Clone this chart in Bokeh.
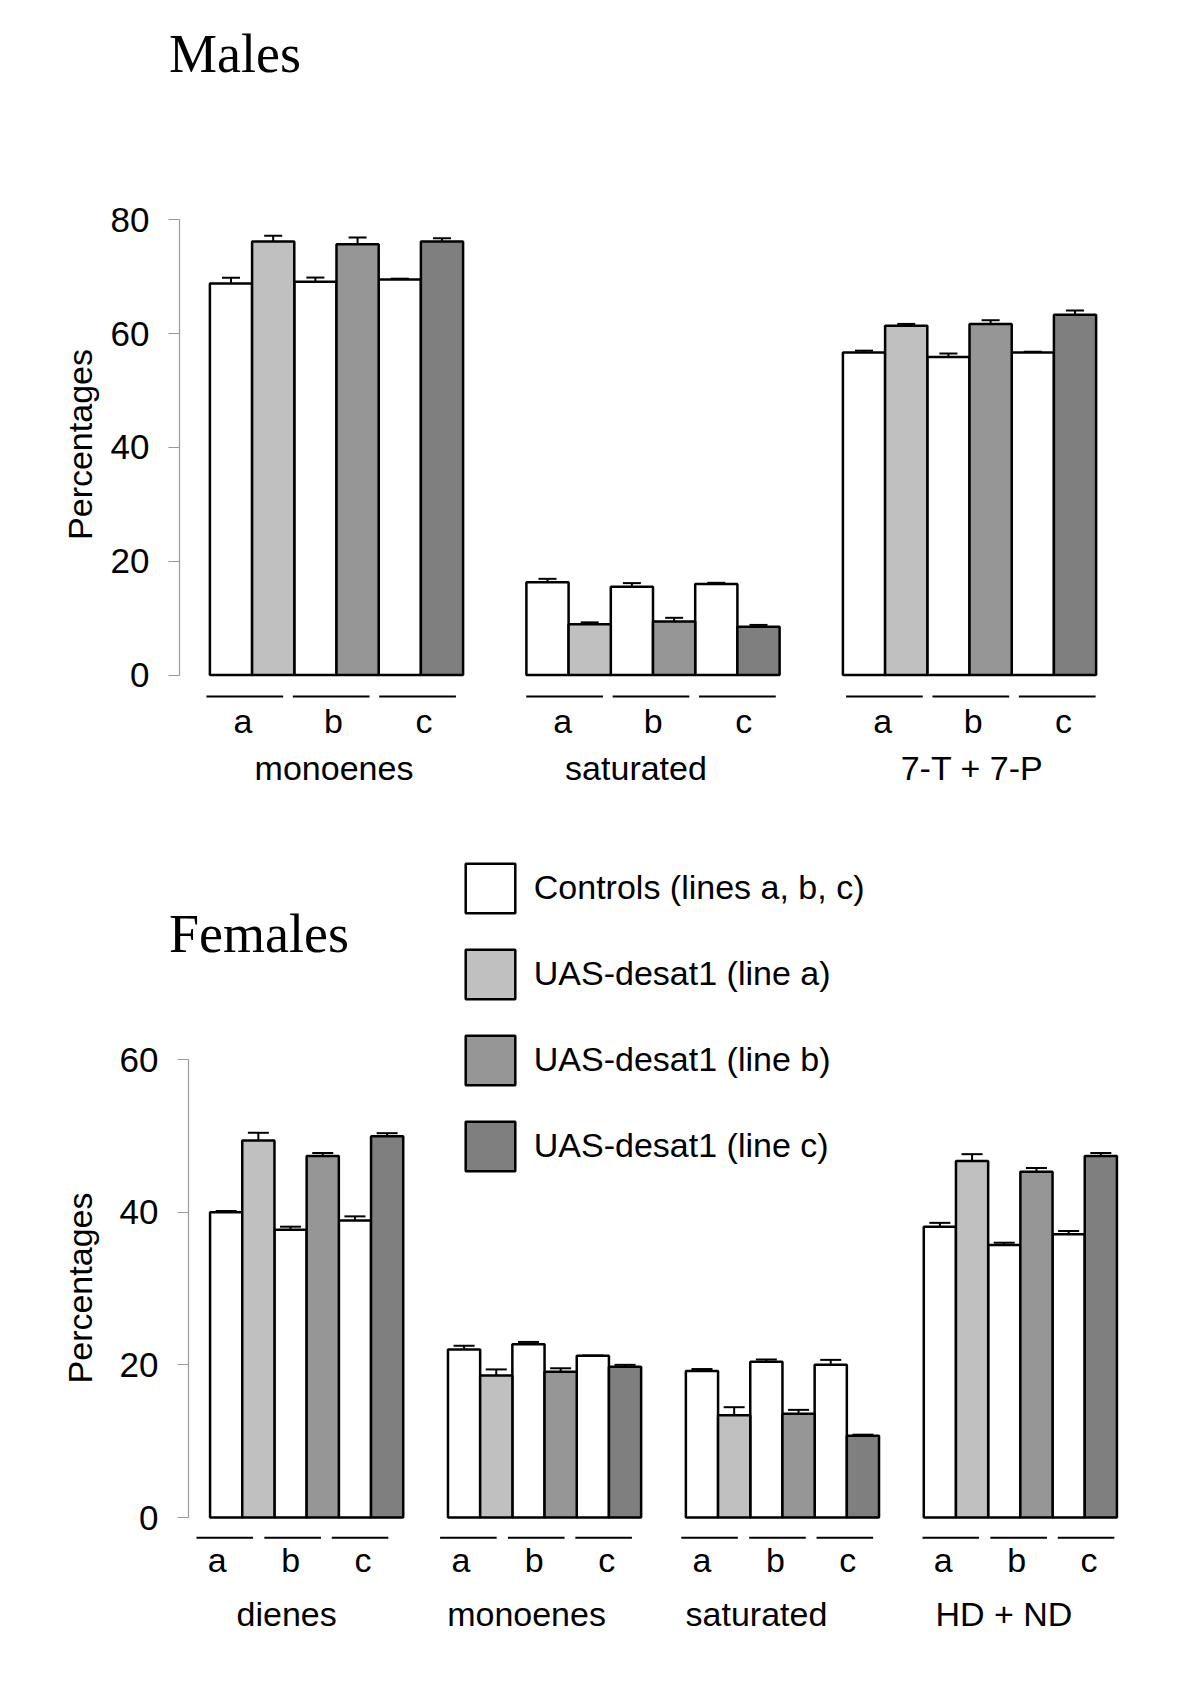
import math
from bokeh.plotting import figure
from bokeh.models import (FactorRange, Range1d, ColumnDataSource, Whisker, TeeHead,
                          FixedTicker, Legend, LegendItem, Label)
from bokeh.layouts import column
from bokeh.embed import file_html
from bokeh.resources import INLINE
from bokeh.core.properties import value

# ---------------- data ----------------
letters = ["a", "b", "c"]

males_groups = ["monoenes", "saturated", "7-T + 7-P"]
males_control = [68.8, 69.1, 69.5, 16.3, 15.5, 16.0, 56.7, 55.9, 56.7]
males_control_err = [1.0, 0.75, 0.15, 0.6, 0.65, 0.2, 0.3, 0.6, 0.1]
males_uas = [76.2, 75.7, 76.2, 8.9, 9.4, 8.5, 61.4, 61.7, 63.3]
males_uas_err = [1.0, 1.2, 0.55, 0.35, 0.65, 0.3, 0.3, 0.65, 0.75]
males_yticks = [0, 20, 40, 60, 80]

females_groups = ["dienes", "monoenes", "saturated", "HD + ND"]
females_control = [40.0, 37.7, 38.9, 22.0, 22.7, 21.2, 19.2, 20.4, 20.0, 38.1, 35.7, 37.1]
females_control_err = [0.15, 0.4, 0.55, 0.5, 0.3, 0.0, 0.25, 0.3, 0.65, 0.5, 0.3, 0.45]
females_uas = [49.4, 47.35, 49.95, 18.6, 19.1, 19.75, 13.4, 13.6, 10.7, 46.7, 45.3, 47.35]
females_uas_err = [1.0, 0.4, 0.4, 0.8, 0.45, 0.25, 1.05, 0.5, 0.15, 0.9, 0.5, 0.4]
females_yticks = [0, 20, 40, 60]

legend_labels = ["Controls (lines a, b, c)", "UAS-desat1 (line a)",
                 "UAS-desat1 (line b)", "UAS-desat1 (line c)"]
y_label = "Percentages"
control_color = "#ffffff"
uas_colors = ["#c0c0c0", "#969696", "#7f7f7f"]

FONT = "Liberation Sans"
FIG_W = 1192
TITLE_PANEL = 60  # height of the title panel above the frame

# ---------------- layout / style ----------------
males_cfg = dict(
    title="Males", h=800, left=179, bar_px=42.2, gpad=1.5, rpad=0.72,
    zero_px=674.5, ppu=5.69, cap=18,
    under_px=21.5, letter_px=45.8, group_px=92.8, under_half=0.909,
    under_group_shift=[-5.3, -2.0, 1.3], under_letter_shift=[-2.0, 0.0, 2.0],
    letter_shift=[-3.8, 2.3, 8.3], group_shift=[-2.5, -17.0, 2.5],
    title_x=-10.5, title_sy=53.0,
    ylab_x=10.5, ylab_cy=444.0,
)
females_cfg = dict(
    title="Females", h=886, left=188, bar_px=32.2, gpad=1.39, rpad=0.67,
    zero_px=717.0, ppu=7.633, cap=21,
    under_px=20.3, letter_px=42.3, group_px=96.7, under_half=0.879,
    under_group_shift=[-14.0, -8.3, -5.0, -1.7], under_letter_shift=[-3.5, 0.0, 3.0],
    letter_shift=[-11.0, -2.0, 6.0], group_shift=[-20.0, -18.0, -26.0, -16.5],
    title_x=-19.5, title_sy=133.0,
    ylab_x=1.5, ylab_cy=487.5,
)


def make_panel(groups, ctrl, ctrl_err, uas, uas_err, yticks, cfg, with_legend=False):
    factors = [(g, l, s) for g in groups for l in letters for s in ("ctrl", "uas")]
    xr = FactorRange(factors=factors, group_padding=cfg["gpad"], subgroup_padding=0.0,
                     factor_padding=0.0, range_padding=cfg["rpad"],
                     range_padding_units="absolute")
    n_units = len(factors) + (len(groups) - 1) * cfg["gpad"] + 2 * cfg["rpad"]
    frame_w = n_units * cfg["bar_px"]
    right = int(round(FIG_W - cfg["left"] - frame_w))
    h = cfg["h"]
    ppu = cfg["ppu"]
    y_top = (cfg["zero_px"] - TITLE_PANEL) / ppu
    y_bot = -(h - cfg["zero_px"]) / ppu

    p = figure(x_range=xr, y_range=Range1d(y_bot, y_top), width=FIG_W, height=h,
               output_backend="svg", toolbar_location=None, x_axis_location=None,
               title_location=None, frame_align=False,
               min_border_left=cfg["left"], min_border_right=right,
               min_border_top=0, min_border_bottom=0)
    p.outline_line_color = None
    p.grid.visible = False
    p.background_fill_color = "white"
    p.border_fill_color = "white"

    ax = p.yaxis[0]
    ax.ticker = FixedTicker(ticks=yticks)
    ax.bounds = (yticks[0], yticks[-1])
    ax.axis_line_color = "#9a9a9a"
    ax.axis_line_width = 1.2
    ax.major_tick_line_color = "#9a9a9a"
    ax.major_tick_line_width = 1.2
    ax.major_tick_out = 11
    ax.major_tick_in = 0
    ax.minor_tick_line_color = None
    ax.major_label_text_font = FONT
    ax.major_label_text_font_size = "35px"
    ax.major_label_text_color = "black"
    ax.major_label_standoff = 19

    # y-axis title, centred on the axis line (placed in the left side panel)
    p.add_layout(Label(x=cfg["ylab_x"], y=h - cfg["ylab_cy"], x_units="screen",
                       y_units="screen", text=y_label, angle=math.pi / 2,
                       text_font=FONT, text_font_size="34px", text_color="black",
                       text_align="center", text_baseline="middle"), "left")

    gl = [(g, l) for g in groups for l in letters]
    ctrl_src = ColumnDataSource(dict(
        x=[(g, l, "ctrl") for g, l in gl], top=ctrl,
        lower=[v - e for v, e in zip(ctrl, ctrl_err)],
        upper=[v + e for v, e in zip(ctrl, ctrl_err)]))
    uas_src = ColumnDataSource(dict(
        x=[(g, l, "uas") for g, l in gl], top=uas,
        color=[uas_colors[letters.index(l)] for g, l in gl],
        lower=[v - e for v, e in zip(uas, uas_err)],
        upper=[v + e for v, e in zip(uas, uas_err)]))

    r_ctrl = p.vbar(x="x", top="top", bottom=0, width=1.0, source=ctrl_src,
                    fill_color=control_color, line_color="black", line_width=2.5)
    r_uas = p.vbar(x="x", top="top", bottom=0, width=1.0, source=uas_src,
                   fill_color="color", line_color="black", line_width=2.5)

    for src in (ctrl_src, uas_src):
        p.add_layout(Whisker(base="x", upper="upper", lower="lower", source=src,
                             line_color="black", line_width=2,
                             upper_head=TeeHead(size=cfg["cap"], line_color="black", line_width=2),
                             lower_head=TeeHead(size=cfg["cap"], line_color="black", line_width=2)))

    # underlines and a/b/c labels
    bpx = cfg["bar_px"]
    x0s, x1s, lx = [], [], []
    for gi, g in enumerate(groups):
        for li, l in enumerate(letters):
            sh = (cfg["under_group_shift"][gi] + cfg["under_letter_shift"][li]) / bpx
            x0s.append((g, l, sh - cfg["under_half"]))
            x1s.append((g, l, sh + cfg["under_half"]))
            lsh = (cfg["under_group_shift"][gi] + cfg["letter_shift"][li]) / bpx
            lx.append((g, l, lsh))
    yu = -cfg["under_px"] / ppu
    p.segment(x0=x0s, x1=x1s, y0=[yu] * len(x0s), y1=[yu] * len(x0s),
              line_color="black", line_width=2)
    p.text(x=lx, y=[-cfg["letter_px"] / ppu] * len(lx), text=[l for g, l in gl],
           text_align="center", text_baseline="alphabetic",
           text_font=value(FONT), text_font_size="34px", text_color="black")
    gx = [(g, cfg["group_shift"][gi] / bpx) for gi, g in enumerate(groups)]
    p.text(x=gx, y=[-cfg["group_px"] / ppu] * len(gx), text=groups,
           text_align="center", text_baseline="alphabetic",
           text_font=value(FONT), text_font_size="34px", text_color="black")

    p.add_layout(Label(x=cfg["title_x"], y=TITLE_PANEL - cfg["title_sy"], x_units="screen",
                       y_units="screen", text=cfg["title"], text_font="Liberation Serif",
                       text_font_size="54px", text_baseline="alphabetic",
                       text_align="left", text_color="black"), "above")

    if with_legend:
        items = [LegendItem(label=legend_labels[0], renderers=[r_ctrl], index=0)]
        for i in range(3):
            items.append(LegendItem(label=legend_labels[i + 1], renderers=[r_uas], index=i))
        leg = Legend(items=items, location=(270.8, 509.5), orientation="vertical",
                     glyph_width=62, glyph_height=62, label_standoff=13, spacing=24,
                     padding=0, margin=0, border_line_color=None,
                     background_fill_alpha=0.0, label_text_font=FONT,
                     label_text_font_size="34px", label_text_color="black")
        p.add_layout(leg)
    return p


p_males = make_panel(males_groups, males_control, males_control_err, males_uas,
                     males_uas_err, males_yticks, males_cfg)
p_females = make_panel(females_groups, females_control, females_control_err, females_uas,
                       females_uas_err, females_yticks, females_cfg, with_legend=True)

layout = column(p_males, p_females, spacing=0)
open("out.html", "w").write(file_html(layout, INLINE))
